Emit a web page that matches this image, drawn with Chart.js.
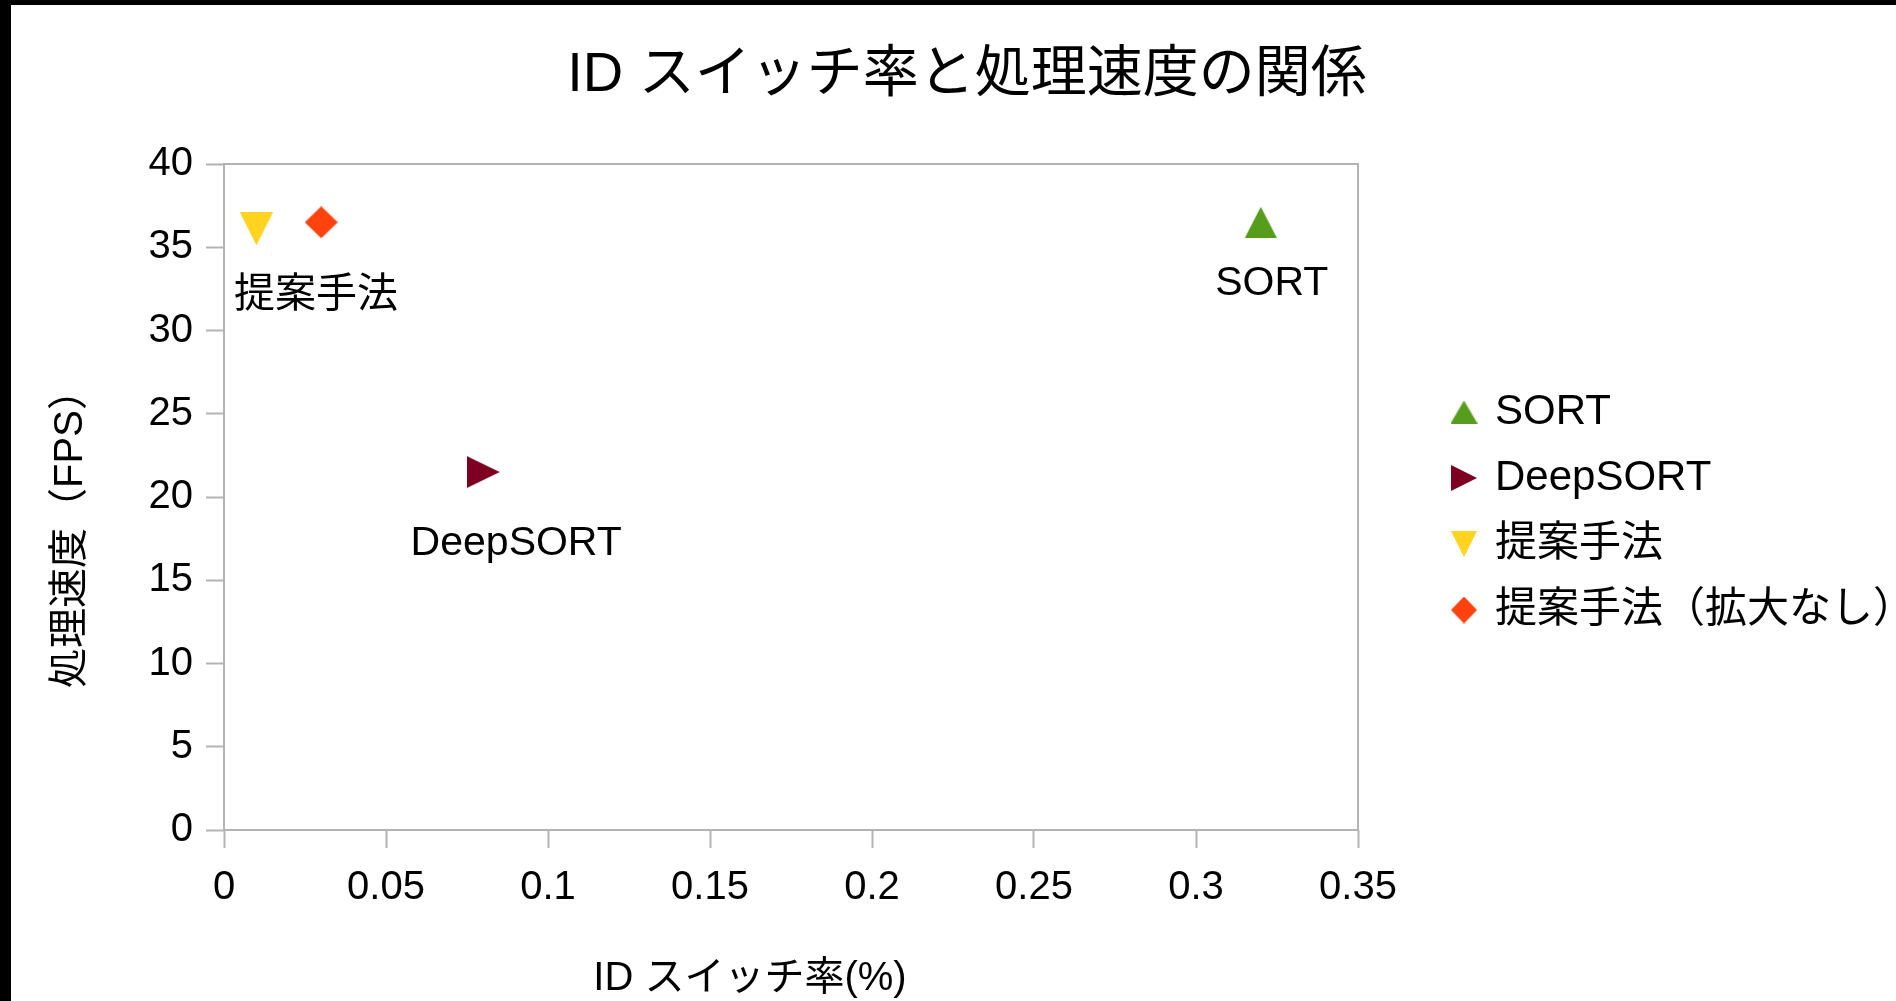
<!DOCTYPE html>
<html><head><meta charset="utf-8">
<script src="https://cdn.jsdelivr.net/npm/chart.js@4/dist/chart.umd.min.js"></script>
<style>
html,body{margin:0;padding:0;background:#000;overflow:hidden;width:1896px;height:1001px;}
#wrap{position:absolute;left:11px;top:5px;width:1895px;height:996px;background:#fff;}
</style></head><body>
<div id="wrap"><canvas id="c"></canvas></div>
<script>
// ---- data ----
const seriesNames = ['SORT', 'DeepSORT', '提案手法', '提案手法（拡大なし）'];
const sortPoints = [{x: 0.32, y: 36.5}];
const deepSortPoints = [{x: 0.08, y: 21.5}];
const proposedPoints = [{x: 0.01, y: 36.1}];
const proposedNoZoomPoints = [{x: 0.03, y: 36.5}];
const pointLabels = ['SORT', 'DeepSORT', '提案手法', ''];
const xTickLabels = ['0', '0.05', '0.1', '0.15', '0.2', '0.25', '0.3', '0.35'];
const yTickLabels = ['0', '5', '10', '15', '20', '25', '30', '35', '40'];
const chartTitle = 'ID スイッチ率と処理速度の関係';
const xAxisTitle = 'ID スイッチ率(%)';
const yAxisTitle = '処理速度（FPS）';

// ---- styles ----
const FONT = '"Liberation Sans", "Noto Sans CJK JP", sans-serif';
const colors = ['#579d1c', '#7e0021', '#ffd320', '#ff420e'];
const shapes = ['up', 'right', 'down', 'diamond'];
const markerSizes = [[32, 31], [33, 32], [33, 33], [33, 32]];
const legendMarkerSizes = [[27, 23], [26, 26], [26, 26], [26, 27]];
const labelOffsets = [{dx: 11, dy: 61.5}, {dx: 33, dy: 72}, {dx: 59.5, dy: 67}, null];
const gridGray = '#b3b3b3';

function makeMarker(shape, w, h, color) {
  const c = document.createElement('canvas');
  c.width = w; c.height = h;
  const g = c.getContext('2d');
  g.fillStyle = color;
  g.beginPath();
  if (shape === 'up') { g.moveTo(w / 2, 0); g.lineTo(w, h); g.lineTo(0, h); }
  else if (shape === 'right') { g.moveTo(0, 0); g.lineTo(w, h / 2); g.lineTo(0, h); }
  else if (shape === 'down') { g.moveTo(0, 0); g.lineTo(w, 0); g.lineTo(w / 2, h); }
  else { g.moveTo(w / 2, 0); g.lineTo(w, h / 2); g.lineTo(w / 2, h); g.lineTo(0, h / 2); }
  g.closePath();
  g.fill();
  return c;
}
const markers = shapes.map((s, i) => makeMarker(s, markerSizes[i][0], markerSizes[i][1], colors[i]));
const legendMarkers = shapes.map((s, i) => makeMarker(s, legendMarkerSizes[i][0], legendMarkerSizes[i][1], colors[i]));

const allPoints = [sortPoints, deepSortPoints, proposedPoints, proposedNoZoomPoints];
const datasets = allPoints.map((pts, i) => ({
  label: seriesNames[i],
  data: pts,
  xAxisID: 'x',
  yAxisID: 'y',
  pointStyle: markers[i],
  pointRadius: 16,
  backgroundColor: colors[i],
  borderColor: colors[i],
  showLine: false
}));

const decor = {
  id: 'decor',
  beforeDatasetsDraw(chart) {
    const {ctx, chartArea: a} = chart;
    ctx.save();
    ctx.strokeStyle = gridGray;
    ctx.lineWidth = 2;
    ctx.strokeRect(a.left, a.top, a.right - a.left, a.bottom - a.top);
    ctx.restore();
  },
  afterDraw(chart) {
    const {ctx, chartArea: a} = chart;
    ctx.save();
    ctx.fillStyle = '#000';
    ctx.textAlign = 'center';
    ctx.textBaseline = 'middle';
    // data labels
    ctx.font = '41px ' + FONT;
    chart.data.datasets.forEach((ds, i) => {
      const off = labelOffsets[i];
      if (!off || !pointLabels[i]) return;
      chart.getDatasetMeta(i).data.forEach(el => {
        ctx.fillText(pointLabels[i], el.x + off.dx, el.y + off.dy);
      });
    });
    // axis titles
    ctx.font = '40px ' + FONT;
    ctx.fillText(xAxisTitle, (a.left + a.right) / 2 - 41, a.bottom + 149);
    ctx.translate(a.left - 153, (a.top + a.bottom) / 2 + 32);
    ctx.rotate(-Math.PI / 2);
    ctx.fillText(yAxisTitle, 0, 0);
    ctx.restore();
  }
};

Chart.defaults.color = '#000';
Chart.defaults.font.family = FONT;

new Chart(document.getElementById('c'), {
  type: 'scatter',
  data: {datasets},
  plugins: [decor],
  options: {
    responsive: true,
    maintainAspectRatio: false,
    animation: false,
    layout: {padding: {left: 30, right: 13, top: 16, bottom: 0}},
    plugins: {
      tooltip: {enabled: false},
      title: {
        display: true,
        text: chartTitle,
        color: '#000',
        font: {size: 56, weight: 'normal', family: FONT},
        padding: {top: 21, bottom: 54.8}
      },
      legend: {
        position: 'right',
        align: 'center',
        labels: {
          usePointStyle: true,
          boxWidth: 20,
          boxHeight: 20,
          padding: 24,
          color: '#000',
          font: {size: 42, family: FONT},
          generateLabels(chart) {
            return Chart.defaults.plugins.legend.labels.generateLabels(chart)
              .map(it => Object.assign(it, {pointStyle: legendMarkers[it.datasetIndex]}));
          }
        }
      }
    },
    scales: {
      x: {
        type: 'linear',
        position: 'bottom',
        min: 0, max: 0.35,
        ticks: {
          stepSize: 0.05,
          padding: 16,
          font: {size: 40, family: FONT},
          color: '#000',
          maxRotation: 0,
          callback: v => { const l = xTickLabels.find(t => Math.abs(Number(t) - v) < 1e-9); return l === undefined ? '' : l; }
        },
        grid: {drawOnChartArea: false, drawTicks: true, tickLength: 18, tickColor: gridGray, tickWidth: 2},
        border: {display: false},
        afterFit(s) { s.height = 171; }
      },
      y: {
        type: 'linear',
        position: 'left',
        min: 0, max: 40,
        ticks: {
          stepSize: 5,
          padding: 13,
          font: {size: 40, family: FONT},
          color: '#000',
          callback: v => { const l = yTickLabels.find(t => Math.abs(Number(t) - v) < 1e-9); return l === undefined ? '' : l; }
        },
        grid: {drawOnChartArea: false, drawTicks: true, tickLength: 18, tickColor: gridGray, tickWidth: 2},
        border: {display: false},
        afterFit(s) { s.width = 183; }
      },
      y2: {
        type: 'linear',
        position: 'right',
        display: false,
        min: 0, max: 1,
        afterFit(s) { s.width = 72; }
      }
    }
  }
});
</script>
</body></html>
